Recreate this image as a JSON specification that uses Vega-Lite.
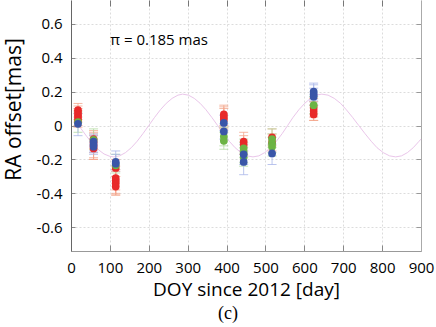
{
  "$schema": "https://vega.github.io/schema/vega-lite/v6.json",
  "autosize": "none",
  "width": 350,
  "height": 251,
  "padding": {"left": 71, "top": 0, "right": 15, "bottom": 76},
  "background": "white",
  "config": {
    "view": {"stroke": null},
    "font": "Open Sans",
    "axis": {
      "labelFont": "Open Sans",
      "titleFont": "Open Sans",
      "labelColor": "black",
      "titleColor": "black",
      "titleFontWeight": "normal",
      "gridColor": "#dcdcdc",
      "gridDash": [2, 2],
      "gridWidth": 1,
      "tickColor": "#888888",
      "domainColor": "#999999"
    }
  },
  "title": {
    "text": "(c)",
    "orient": "bottom",
    "font": "Liberation Serif",
    "fontSize": 18,
    "fontWeight": "normal",
    "color": "black",
    "anchor": "middle",
    "dx": -18,
    "offset": 6
  },
  "datasets": {
    "curve": [
      {"d": 10, "v": 0.032}, {"d": 25, "v": -0.016}, {"d": 40, "v": -0.063}, {"d": 55, "v": -0.106},
      {"d": 70, "v": -0.142}, {"d": 85, "v": -0.168}, {"d": 100, "v": -0.182}, {"d": 110, "v": -0.185},
      {"d": 125, "v": -0.179}, {"d": 140, "v": -0.16}, {"d": 155, "v": -0.131}, {"d": 170, "v": -0.093},
      {"d": 185, "v": -0.048}, {"d": 200, "v": 0.0}, {"d": 215, "v": 0.048}, {"d": 230, "v": 0.093},
      {"d": 245, "v": 0.131}, {"d": 260, "v": 0.16}, {"d": 275, "v": 0.179}, {"d": 287, "v": 0.185},
      {"d": 302, "v": 0.179}, {"d": 317, "v": 0.16}, {"d": 332, "v": 0.131}, {"d": 347, "v": 0.093},
      {"d": 362, "v": 0.048}, {"d": 377, "v": 0.0}, {"d": 392, "v": -0.048}, {"d": 407, "v": -0.093},
      {"d": 422, "v": -0.131}, {"d": 437, "v": -0.16}, {"d": 452, "v": -0.179}, {"d": 468, "v": -0.185},
      {"d": 483, "v": -0.179}, {"d": 498, "v": -0.16}, {"d": 513, "v": -0.131}, {"d": 528, "v": -0.093},
      {"d": 543, "v": -0.048}, {"d": 557, "v": 0.0}, {"d": 571, "v": 0.048}, {"d": 586, "v": 0.093},
      {"d": 601, "v": 0.131}, {"d": 616, "v": 0.16}, {"d": 630, "v": 0.179}, {"d": 645, "v": 0.185},
      {"d": 661, "v": 0.179}, {"d": 677, "v": 0.16}, {"d": 693, "v": 0.131}, {"d": 708, "v": 0.093},
      {"d": 724, "v": 0.048}, {"d": 740, "v": 0.0}, {"d": 756, "v": -0.048}, {"d": 772, "v": -0.093},
      {"d": 787, "v": -0.131}, {"d": 803, "v": -0.16}, {"d": 819, "v": -0.179}, {"d": 835, "v": -0.185},
      {"d": 850, "v": -0.179}, {"d": 865, "v": -0.16}, {"d": 880, "v": -0.131}, {"d": 895, "v": -0.093},
      {"d": 900, "v": -0.08}
    ],
    "obs": [
      {"d": 18, "v": 0.09, "lo": 0.05, "hi": 0.13, "c": "ch1"},
      {"d": 18, "v": 0.075, "lo": 0.035, "hi": 0.115, "c": "ch1"},
      {"d": 18, "v": 0.06, "lo": 0.02, "hi": 0.1, "c": "ch1"},
      {"d": 18, "v": 0.045, "lo": 0.0, "hi": 0.09, "c": "ch1"},
      {"d": 18, "v": 0.03, "lo": -0.01, "hi": 0.07, "c": "ch1"},
      {"d": 58, "v": -0.08, "lo": -0.16, "hi": -0.03, "c": "ch1"},
      {"d": 58, "v": -0.1, "lo": -0.19, "hi": -0.04, "c": "ch1"},
      {"d": 58, "v": -0.12, "lo": -0.2, "hi": -0.05, "c": "ch1"},
      {"d": 58, "v": -0.135, "lo": -0.2, "hi": -0.06, "c": "ch1"},
      {"d": 115, "v": -0.25, "lo": -0.3, "hi": -0.2, "c": "ch1"},
      {"d": 115, "v": -0.31, "lo": -0.38, "hi": -0.24, "c": "ch1"},
      {"d": 115, "v": -0.325, "lo": -0.4, "hi": -0.26, "c": "ch1"},
      {"d": 115, "v": -0.34, "lo": -0.41, "hi": -0.27, "c": "ch1"},
      {"d": 115, "v": -0.36, "lo": -0.41, "hi": -0.3, "c": "ch1"},
      {"d": 393, "v": 0.065, "lo": 0.0, "hi": 0.12, "c": "ch1"},
      {"d": 393, "v": 0.05, "lo": -0.01, "hi": 0.11, "c": "ch1"},
      {"d": 393, "v": 0.035, "lo": -0.02, "hi": 0.1, "c": "ch1"},
      {"d": 444, "v": -0.095, "lo": -0.15, "hi": -0.04, "c": "ch1"},
      {"d": 444, "v": -0.115, "lo": -0.17, "hi": -0.06, "c": "ch1"},
      {"d": 517, "v": -0.07, "lo": -0.12, "hi": -0.02, "c": "ch1"},
      {"d": 517, "v": -0.1, "lo": -0.15, "hi": -0.05, "c": "ch1"},
      {"d": 624, "v": 0.105, "lo": 0.05, "hi": 0.16, "c": "ch1"},
      {"d": 624, "v": 0.085, "lo": 0.03, "hi": 0.14, "c": "ch1"},
      {"d": 624, "v": 0.065, "lo": 0.03, "hi": 0.12, "c": "ch1"},
      {"d": 18, "v": 0.02, "lo": -0.04, "hi": 0.08, "c": "ch2"},
      {"d": 58, "v": -0.085, "lo": -0.14, "hi": -0.02, "c": "ch2"},
      {"d": 115, "v": -0.235, "lo": -0.28, "hi": -0.17, "c": "ch2"},
      {"d": 393, "v": -0.065, "lo": -0.12, "hi": -0.01, "c": "ch2"},
      {"d": 393, "v": -0.09, "lo": -0.14, "hi": -0.04, "c": "ch2"},
      {"d": 444, "v": -0.135, "lo": -0.19, "hi": -0.08, "c": "ch2"},
      {"d": 444, "v": -0.16, "lo": -0.22, "hi": -0.1, "c": "ch2"},
      {"d": 444, "v": -0.185, "lo": -0.24, "hi": -0.13, "c": "ch2"},
      {"d": 517, "v": -0.08, "lo": -0.13, "hi": -0.02, "c": "ch2"},
      {"d": 517, "v": -0.105, "lo": -0.16, "hi": -0.05, "c": "ch2"},
      {"d": 517, "v": -0.125, "lo": -0.18, "hi": -0.07, "c": "ch2"},
      {"d": 624, "v": 0.12, "lo": 0.07, "hi": 0.17, "c": "ch2"},
      {"d": 18, "v": 0.01, "lo": -0.06, "hi": 0.07, "c": "ch3"},
      {"d": 58, "v": -0.095, "lo": -0.15, "hi": -0.05, "c": "ch3"},
      {"d": 58, "v": -0.11, "lo": -0.16, "hi": -0.06, "c": "ch3"},
      {"d": 58, "v": -0.125, "lo": -0.17, "hi": -0.08, "c": "ch3"},
      {"d": 115, "v": -0.215, "lo": -0.26, "hi": -0.15, "c": "ch3"},
      {"d": 115, "v": -0.225, "lo": -0.27, "hi": -0.17, "c": "ch3"},
      {"d": 393, "v": 0.015, "lo": -0.03, "hi": 0.06, "c": "ch3"},
      {"d": 393, "v": -0.035, "lo": -0.08, "hi": 0.01, "c": "ch3"},
      {"d": 444, "v": -0.17, "lo": -0.23, "hi": -0.11, "c": "ch3"},
      {"d": 444, "v": -0.215, "lo": -0.29, "hi": -0.15, "c": "ch3"},
      {"d": 517, "v": -0.165, "lo": -0.23, "hi": -0.11, "c": "ch3"},
      {"d": 624, "v": 0.2, "lo": 0.15, "hi": 0.25, "c": "ch3"},
      {"d": 624, "v": 0.185, "lo": 0.14, "hi": 0.24, "c": "ch3"},
      {"d": 624, "v": 0.17, "lo": 0.12, "hi": 0.22, "c": "ch3"}
    ]
  },
  "resolve": {"axis": {"x": "independent", "y": "independent"}, "scale": {"color": "independent"}},
  "layer": [
    {
      "data": {"name": "curve"},
      "mark": {"type": "line", "color": "#eac6ea", "strokeWidth": 1},
      "encoding": {
        "x": {
          "field": "d", "type": "quantitative",
          "scale": {"domain": [0, 900], "nice": false, "zero": false},
          "axis": {
            "title": "DOY since 2012 [day]",
            "titleFontSize": 19,
            "titlePadding": 5,
            "values": [0, 100, 200, 300, 400, 500, 600, 700, 800, 900],
            "labelFontSize": 15,
            "labelPadding": 15,
            "tickSize": -6,
            "domainColor": "#999999",
            "grid": true,
            "labelFlush": false
          }
        },
        "y": {
          "field": "v", "type": "quantitative",
          "scale": {"domain": [-0.74, 0.74], "nice": false, "zero": false},
          "axis": {
            "title": "RA offset[mas]",
            "titleFontSize": 21,
            "titleX": -57,
            "titleY": 109,
            "titleBaseline": "middle",
            "values": [-0.6, -0.4, -0.2, 0, 0.2, 0.4, 0.6],
            "labelExpr": "'' + datum.value",
            "labelFontSize": 15,
            "labelPadding": 13,
            "tickSize": -4,
            "domainColor": "#666666",
            "grid": true,
            "labelFlush": false
          }
        }
      }
    },
    {
      "data": {"name": "obs"},
      "mark": {"type": "errorbar", "ticks": {"size": 9}, "thickness": 1, "opacity": 0.8},
      "encoding": {
        "x": {"field": "d", "type": "quantitative", "axis": null},
        "y": {"field": "lo", "type": "quantitative", "axis": null},
        "y2": {"field": "hi"},
        "color": {"field": "c", "type": "nominal", "legend": null,
          "scale": {"domain": ["ch1", "ch2", "ch3"], "range": ["#f4a68c", "#b3dba0", "#aab6ea"]}}
      }
    },
    {
      "data": {"name": "obs"},
      "mark": {"type": "circle", "size": 60, "opacity": 1},
      "encoding": {
        "x": {"field": "d", "type": "quantitative", "axis": null},
        "y": {"field": "v", "type": "quantitative", "axis": null},
        "color": {"field": "c", "type": "nominal", "legend": null,
          "scale": {"domain": ["ch1", "ch2", "ch3"], "range": ["#e82a2a", "#6cb444", "#3a56a8"]}}
      }
    },
    {
      "data": {"values": [{"label": "π = 0.185 mas", "d": 101, "v": 0.504}]},
      "mark": {"type": "text", "align": "left", "baseline": "middle", "fontSize": 15, "font": "Open Sans", "color": "black"},
      "encoding": {
        "x": {"field": "d", "type": "quantitative", "axis": null},
        "y": {"field": "v", "type": "quantitative", "axis": null},
        "text": {"field": "label"}
      }
    },
    {
      "data": {"name": "obs"},
      "mark": {"type": "point", "opacity": 0},
      "encoding": {
        "x": {"field": "d", "type": "quantitative",
          "axis": {"orient": "top", "labels": false, "title": null, "domain": false, "grid": false,
            "values": [100, 200, 300, 400, 500, 600, 700, 800], "tickSize": -6, "tickColor": "#777777"}},
        "y": {"field": "v", "type": "quantitative",
          "axis": {"orient": "right", "labels": false, "title": null, "domain": true, "grid": false,
            "domainColor": "#aaaaaa",
            "values": [-0.6, -0.4, -0.2, 0, 0.2, 0.4, 0.6], "tickSize": -5, "tickColor": "#999999"}}
      }
    }
  ]
}
